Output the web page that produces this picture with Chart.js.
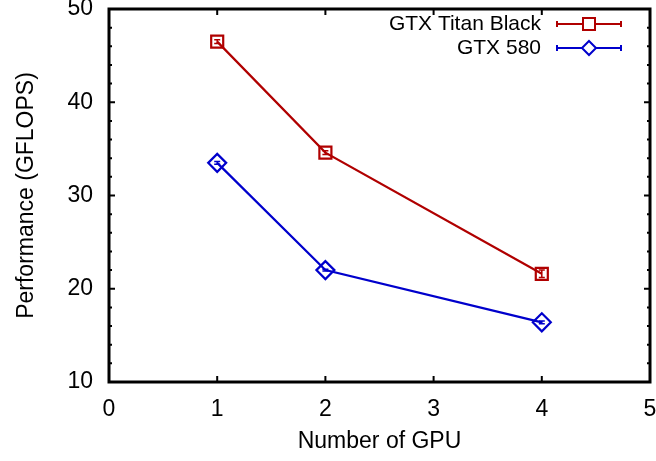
<!DOCTYPE html>
<html><head><meta charset="utf-8">
<script src="https://cdn.jsdelivr.net/npm/chart.js@4/dist/chart.umd.min.js"></script>
<style>html,body{margin:0;padding:0;background:#fff}#wrap{width:656px;height:461px}</style>
</head><body><div id="wrap"><canvas id="c" width="656" height="461"></canvas></div>
<script>
const gpus = [1, 2, 4];
const titanBlack = [46.5, 34.6, 21.6];
const titanBlackErr = [0.2, 0.2, 0.4];
const gtx580 = [33.5, 22.0, 16.4];
const gtx580Err = [0.15, 0.1, 0.15];
const seriesNames = ['GTX Titan Black', 'GTX 580'];
const xTicks = [0, 1, 2, 3, 4, 5];
const yTicks = [10, 20, 30, 40, 50];
const RED = '#b00000', BLUE = '#0000cc';
const FONT = 'Liberation Sans, Arial, sans-serif';

const frame = {
  id: 'frame',
  afterDatasetsDraw(chart) {
    const {ctx, chartArea: a, scales: {x, y}} = chart;
    ctx.save();
    chart.data.datasets.forEach((ds, i) => {
      ctx.strokeStyle = ds.borderColor; ctx.lineWidth = 1.5;
      ds.data.forEach((p, j) => {
        const px = x.getPixelForValue(p.x);
        const y1 = y.getPixelForValue(p.y - ds.errs[j]), y2 = y.getPixelForValue(p.y + ds.errs[j]);
        ctx.beginPath(); ctx.moveTo(px, y1); ctx.lineTo(px, y2);
        ctx.moveTo(px - 3, y1); ctx.lineTo(px + 3, y1);
        ctx.moveTo(px - 3, y2); ctx.lineTo(px + 3, y2); ctx.stroke();
      });
    });
    ctx.strokeStyle = '#000'; ctx.lineWidth = 3;
    ctx.strokeRect(a.left, a.top, a.right - a.left, a.bottom - a.top);
    ctx.lineWidth = 2;
    ctx.beginPath();
    for (let v = 1; v < 5; v++) {
      const px = x.getPixelForValue(v);
      ctx.moveTo(px, a.bottom); ctx.lineTo(px, a.bottom - 6);
      ctx.moveTo(px, a.top); ctx.lineTo(px, a.top + 6);
    }
    for (let v = 12; v < 50; v += 2) {
      const py = y.getPixelForValue(v);
      const len = (v % 10 === 0) ? 6 : 3;
      ctx.moveTo(a.left, py); ctx.lineTo(a.left + len, py);
      ctx.moveTo(a.right, py); ctx.lineTo(a.right - len, py);
    }
    ctx.stroke();
    ctx.font = '21px ' + FONT; ctx.textAlign = 'right'; ctx.textBaseline = 'middle'; ctx.fillStyle = '#000';
    chart.data.datasets.forEach((ds, i) => {
      const ly = 24 + i * 24;
      ctx.fillText(ds.label, 541, ly);
      ctx.strokeStyle = ds.borderColor; ctx.lineWidth = 2;
      ctx.beginPath(); ctx.moveTo(557, ly); ctx.lineTo(621, ly);
      ctx.moveTo(557, ly - 3); ctx.lineTo(557, ly + 3);
      ctx.moveTo(621, ly - 3); ctx.lineTo(621, ly + 3); ctx.stroke();
      ctx.fillStyle = '#fff';
      ctx.beginPath();
      if (i === 0) { ctx.rect(583, ly - 6, 12, 12); }
      else { ctx.moveTo(589, ly - 7); ctx.lineTo(596, ly); ctx.lineTo(589, ly + 7); ctx.lineTo(582, ly); ctx.closePath(); }
      ctx.fill(); ctx.stroke();
      ctx.fillStyle = '#000';
    });
    ctx.restore();
  }
};

new Chart(document.getElementById('c'), {
  type: 'line',
  data: {
    datasets: [
      { label: seriesNames[0], data: gpus.map((g, i) => ({x: g, y: titanBlack[i]})), errs: titanBlackErr,
        borderColor: RED, backgroundColor: 'rgba(255,255,255,0)', borderWidth: 2.2,
        pointStyle: 'rect', pointRadius: 8.5, pointBorderWidth: 2.2, pointBackgroundColor: 'rgba(255,255,255,0)' },
      { label: seriesNames[1], data: gpus.map((g, i) => ({x: g, y: gtx580[i]})), errs: gtx580Err,
        borderColor: BLUE, backgroundColor: 'rgba(255,255,255,0)', borderWidth: 2.2,
        pointStyle: 'rectRot', pointRadius: 9, pointBorderWidth: 2.2, pointBackgroundColor: 'rgba(255,255,255,0)' }
    ]
  },
  options: {
    responsive: false, animation: false, devicePixelRatio: 1,
    layout: { autoPadding: false, padding: { top: 9, right: 6, left: 0, bottom: 0 } },
    plugins: { legend: { display: false }, tooltip: { enabled: false } },
    scales: {
      x: { type: 'linear', min: 0, max: 5,
        afterBuildTicks: s => { s.ticks = xTicks.map(v => ({value: v})); },
        afterFit: s => { s.height = 79; s.paddingLeft = 0; s.paddingRight = 0; },
        grid: { display: false, drawTicks: false }, border: { display: false },
        ticks: { color: '#000', font: { family: FONT, size: 23 }, padding: 14, maxRotation: 0 },
        title: { display: true, text: 'Number of GPU', color: '#000', font: { family: FONT, size: 23 }, padding: { top: 4, bottom: 6 } } },
      y: { type: 'linear', min: 10, max: 50,
        afterBuildTicks: s => { s.ticks = yTicks.map(v => ({value: v})); },
        afterFit: s => { s.width = 109; s.paddingTop = 0; s.paddingBottom = 0; },
        grid: { display: false, drawTicks: false }, border: { display: false },
        ticks: { color: '#000', font: { family: FONT, size: 23 }, padding: 16 },
        title: { display: true, text: 'Performance (GFLOPS)', color: '#000', font: { family: FONT, size: 23 }, padding: { top: 13, bottom: 4 } } }
    }
  },
  plugins: [frame]
});
</script></body></html>
